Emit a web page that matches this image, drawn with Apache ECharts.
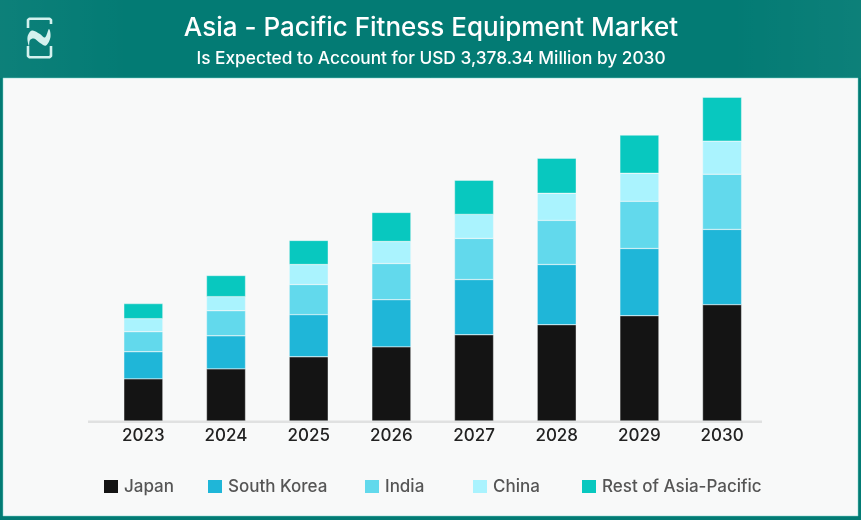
<!DOCTYPE html>
<html>
<head>
<meta charset="utf-8">
<style>
  html, body { margin: 0; padding: 0; background: #037b74; }
  #chart { width: 861px; height: 520px; }
</style>
<script src="https://cdn.jsdelivr.net/npm/echarts@6/dist/echarts.min.js"></script>
</head>
<body>
<div id="chart"></div>
<script>
var years = ['2023', '2024', '2025', '2026', '2027', '2028', '2029', '2030'];

// USD million (2030 total is 3,378.34)
var japan = [440, 544, 670, 774, 900, 1005, 1099, 1214];
var southKorea = [283, 345, 440, 492, 576, 628, 701, 785];
var india = [209, 262, 314, 377, 429, 460, 492, 576];
var china = [136, 147, 209, 230, 251, 283, 293, 345];
var restOfAsia = [157, 220, 251, 303, 356, 366, 398, 458];

var seriesNames = ['Japan', 'South Korea', 'India', 'China', 'Rest of Asia-Pacific'];
var seriesData = [japan, southKorea, india, china, restOfAsia];
var colors = ['#141414', '#1fb6d8', '#62d9ec', '#aaf3fe', '#08c8bf'];
var legendLeft = [102, 206, 363, 471, 580];

var fontName = 'Inter, "Noto Sans", sans-serif';
var logoColor = '#d4f1ee';
var chart = echarts.init(document.getElementById('chart'));

function headerGlow(x, width, from, to) {
    return {
        type: 'rect', silent: true, z: -9,
        shape: { x: x, y: 0, width: width, height: 78 },
        style: {
            fill: new echarts.graphic.LinearGradient(0, 0, 1, 0, [
                { offset: 0, color: 'rgba(255,255,255,' + from + ')' },
                { offset: 1, color: 'rgba(255,255,255,' + to + ')' }
            ])
        }
    };
}

chart.setOption({
    animation: false,
    backgroundColor: '#037b74',
    textStyle: { fontFamily: fontName },
    title: [{
        text: 'Asia - Pacific Fitness Equipment Market',
        left: 426, top: 10, textAlign: 'center',
        textStyle: { color: '#ffffff', fontSize: 26, fontWeight: 500, fontFamily: fontName }
    }, {
        text: 'Is Expected to Account for USD 3,378.34 Million by 2030',
        left: 426, top: 45, textAlign: 'center',
        textStyle: { color: '#ffffff', fontSize: 17.3, fontWeight: 500, fontFamily: fontName }
    }],
    graphic: [
        headerGlow(0, 130, 0.04, 0),
        headerGlow(731, 130, 0, 0.04),
        // panel behind the chart
        { type: 'rect', silent: true, z: -8, shape: { x: 3, y: 78, width: 855, height: 438 },
          style: { fill: '#f8f9f9', stroke: '#7fd6cf', lineWidth: 0.5 } },
        // baseline
        { type: 'rect', silent: true, z: 1, shape: { x: 88, y: 420.5, width: 674, height: 2.5 },
          style: { fill: '#e0e1e1' } },
        // logo
        { type: 'polyline', silent: true, z: 5,
          shape: { points: [[28, 28], [28, 20], [29.5, 18.8], [49.5, 18.8], [51, 20], [51, 24]] },
          style: { fill: null, stroke: logoColor, lineWidth: 2.6, lineJoin: 'round' } },
        { type: 'polyline', silent: true, z: 5,
          shape: { points: [[28, 46], [28, 56], [29.5, 57.2], [49.5, 57.2], [51, 56], [51, 46]] },
          style: { fill: null, stroke: logoColor, lineWidth: 2.6, lineJoin: 'round' } },
        { type: 'polygon', silent: true, z: 5,
          shape: { smooth: 0.35, points: [[29, 46], [27.5, 37], [32, 30.5], [40, 34], [45, 37.5], [49, 29], [50.5, 37], [46, 45.5], [40, 43], [34, 38.5], [30, 40]] },
          style: { fill: logoColor } }
    ],
    grid: { left: 102, right: 97.6, top: 76, bottom: 99 },
    legend: seriesNames.map(function (name, i) {
        return {
            data: [name],
            left: legendLeft[i],
            top: 478,
            itemWidth: 16,
            itemHeight: 15,
            padding: 0,
            icon: 'rect',
            selectedMode: false,
            textStyle: { color: '#555555', fontSize: 17, fontWeight: 500, fontFamily: fontName }
        };
    }),
    xAxis: {
        type: 'category',
        data: years,
        axisLine: { show: false },
        axisTick: { show: false },
        axisLabel: { color: '#222222', fontSize: 17, fontWeight: 500, margin: 6, fontFamily: fontName }
    },
    yAxis: { type: 'value', min: 0, max: 3600, show: false },
    series: seriesNames.map(function (name, i) {
        return {
            name: name,
            type: 'bar',
            stack: 'total',
            barWidth: 39,
            data: seriesData[i],
            itemStyle: { color: colors[i], borderColor: '#f8f9f9', borderWidth: 0.4 }
        };
    })
});
</script>
</body>
</html>
